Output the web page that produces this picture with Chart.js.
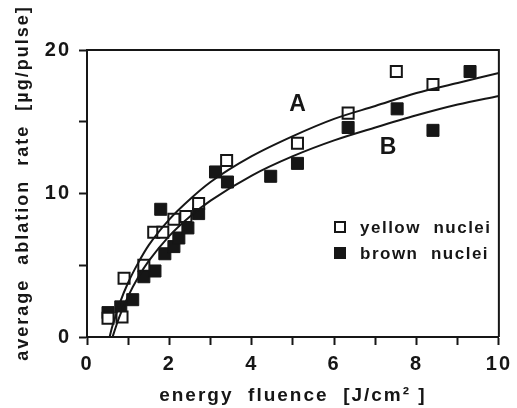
<!DOCTYPE html>
<html>
<head>
<meta charset="utf-8">
<script src="https://cdn.jsdelivr.net/npm/chart.js@4/dist/chart.umd.min.js"></script>
<style>
  html, body { margin: 0; padding: 0; background: #fff; }
  #wrap { width: 517px; height: 408px; }
</style>
</head>
<body>
<div id="wrap"><canvas id="ablationChart" width="517" height="408"></canvas></div>
<script>
// measured points (energy fluence J/cm2, ablation rate ug/pulse)
const yellowX = [0.51, 0.85, 0.90, 1.38, 1.62, 1.84, 2.11, 2.40, 2.71, 3.39, 5.11, 6.34, 7.51, 8.40];
const yellowY = [1.3, 1.4, 4.1, 5.0, 7.3, 7.3, 8.2, 8.4, 9.3, 12.3, 13.5, 15.6, 18.5, 17.6];
const brownX = [0.51, 0.82, 1.11, 1.38, 1.65, 1.79, 1.89, 2.11, 2.23, 2.45, 2.71, 3.12, 3.41, 4.46, 5.11, 6.34, 7.53, 8.40, 9.30];
const brownY = [1.7, 2.1, 2.6, 4.2, 4.6, 8.9, 5.8, 6.3, 6.9, 7.6, 8.6, 11.5, 10.8, 11.2, 12.1, 14.6, 15.9, 14.4, 18.5];

// fitted curves
const curveAX = [0.55, 0.6, 0.7, 0.8, 1.0, 1.25, 1.5, 2, 2.5, 3, 4, 5, 6, 7, 8, 9, 10];
const curveAY = [0, 0.6, 1.5, 2.4, 3.8, 5.2, 6.4, 8.2, 9.6, 10.8, 12.6, 14.0, 15.2, 16.1, 17.0, 17.7, 18.4];
const curveBX = [0.62, 0.7, 0.8, 1.0, 1.25, 1.5, 2, 2.5, 3, 4, 5, 6, 7, 8, 9, 10];
const curveBY = [0, 0.7, 1.5, 2.85, 4.2, 5.3, 7.05, 8.4, 9.5, 11.25, 12.6, 13.7, 14.6, 15.45, 16.2, 16.8];

const xTickLabels = [0, 2, 4, 6, 8, 10];
const yTickLabels = [0, 10, 20];
const curveNames = ['A', 'B'];
const seriesNames = ['yellow  nuclei', 'brown  nuclei'];

const ink = '#161616';
const fontFamily = '"Liberation Sans", Arial, Helvetica, sans-serif';

function toPoints(xs, ys) {
    return xs.map((x, i) => ({ x: x, y: ys[i] }));
}

// text spacing like the original lettering
const spacingPlugin = {
    id: 'spacing',
    beforeDraw(chart) {
        chart.ctx.letterSpacing = '2px';
    }
};

// frame, curve letters and the boxed legend
const decorPlugin = {
    id: 'decor',
    afterDraw(chart) {
        const ctx = chart.ctx;
        const area = chart.chartArea;
        const xs = chart.scales.x;
        const ys = chart.scales.y;
        ctx.save();
        ctx.strokeStyle = ink;
        ctx.lineWidth = 2;
        ctx.beginPath();
        ctx.moveTo(area.left, area.top);
        ctx.lineTo(area.right, area.top);
        ctx.lineTo(area.right, area.bottom);
        ctx.stroke();

        ctx.fillStyle = ink;
        ctx.letterSpacing = '0px';
        ctx.font = 'bold 23px ' + fontFamily;
        ctx.textAlign = 'center';
        ctx.textBaseline = 'middle';
        ctx.fillText(curveNames[0], xs.getPixelForValue(5.11), ys.getPixelForValue(16.2));
        ctx.fillText(curveNames[1], xs.getPixelForValue(7.31), ys.getPixelForValue(13.2));

        // legend
        const lx = area.left + 253;
        const ly = area.top + 177;
        ctx.lineWidth = 2;
        ctx.fillStyle = '#fff';
        ctx.fillRect(lx - 5, ly - 5, 10, 10);
        ctx.strokeRect(lx - 5, ly - 5, 10, 10);
        ctx.fillStyle = ink;
        ctx.fillRect(lx - 6, ly + 20, 12, 12);
        ctx.font = 'bold 17px ' + fontFamily;
        ctx.letterSpacing = '1.5px';
        ctx.textAlign = 'left';
        ctx.fillText(seriesNames[0], lx + 20, ly + 1);
        ctx.fillText(seriesNames[1], lx + 20, ly + 27);
        ctx.restore();
    }
};

const tickFont = { family: fontFamily, size: 20, weight: 'bold' };
const titleFont = { family: fontFamily, size: 19, weight: 'bold' };

new Chart(document.getElementById('ablationChart'), {
    type: 'scatter',
    data: {
        datasets: [
            {
                type: 'line',
                label: curveNames[0],
                data: toPoints(curveAX, curveAY),
                borderColor: ink,
                borderWidth: 2,
                pointRadius: 0,
                cubicInterpolationMode: 'monotone',
                fill: false
            },
            {
                type: 'line',
                label: curveNames[1],
                data: toPoints(curveBX, curveBY),
                borderColor: ink,
                borderWidth: 2,
                pointRadius: 0,
                cubicInterpolationMode: 'monotone',
                fill: false
            },
            {
                label: seriesNames[0],
                data: toPoints(yellowX, yellowY),
                pointStyle: 'rect',
                pointRadius: 7.8,
                backgroundColor: '#fff',
                borderColor: ink,
                borderWidth: 2
            },
            {
                label: seriesNames[1],
                data: toPoints(brownX, brownY),
                pointStyle: 'rect',
                pointRadius: 8.5,
                backgroundColor: ink,
                borderColor: ink,
                borderWidth: 1
            }
        ]
    },
    options: {
        responsive: false,
        animation: false,
        layout: { padding: { top: 50, right: 17, left: 0, bottom: 0 } },
        plugins: {
            legend: { display: false },
            tooltip: { enabled: false }
        },
        scales: {
            x: {
                type: 'linear',
                min: 0,
                max: 10,
                afterFit: function(scale) { scale.height = 71; },
                ticks: {
                    stepSize: 1,
                    autoSkip: false,
                    maxRotation: 0,
                    color: ink,
                    font: tickFont,
                    padding: 7,
                    callback: v => xTickLabels.includes(v) ? String(v) : ''
                },
                grid: { drawOnChartArea: false, drawTicks: true, tickLength: 8, tickWidth: 2, tickColor: ink },
                border: { display: true, color: ink, width: 2 },
                title: {
                    display: true,
                    text: 'energy  fluence  [J/cm² ]',
                    color: ink,
                    font: titleFont,
                    padding: { top: 0, bottom: 1 }
                }
            },
            y: {
                type: 'linear',
                min: 0,
                max: 20,
                afterFit: function(scale) { scale.width = 87; },
                ticks: {
                    stepSize: 5,
                    color: ink,
                    font: tickFont,
                    padding: 8,
                    callback: v => yTickLabels.includes(v) ? String(v) : ''
                },
                grid: { drawOnChartArea: false, drawTicks: true, tickLength: 8, tickWidth: 2, tickColor: ink },
                border: { display: true, color: ink, width: 2 },
                title: {
                    display: true,
                    text: '   average  ablation  rate  [µg/pulse]',
                    color: ink,
                    font: { family: fontFamily, size: 18, weight: 'bold' },
                    padding: { top: 12, bottom: 0 }
                }
            }
        }
    },
    plugins: [spacingPlugin, decorPlugin]
});
</script>
</body>
</html>
